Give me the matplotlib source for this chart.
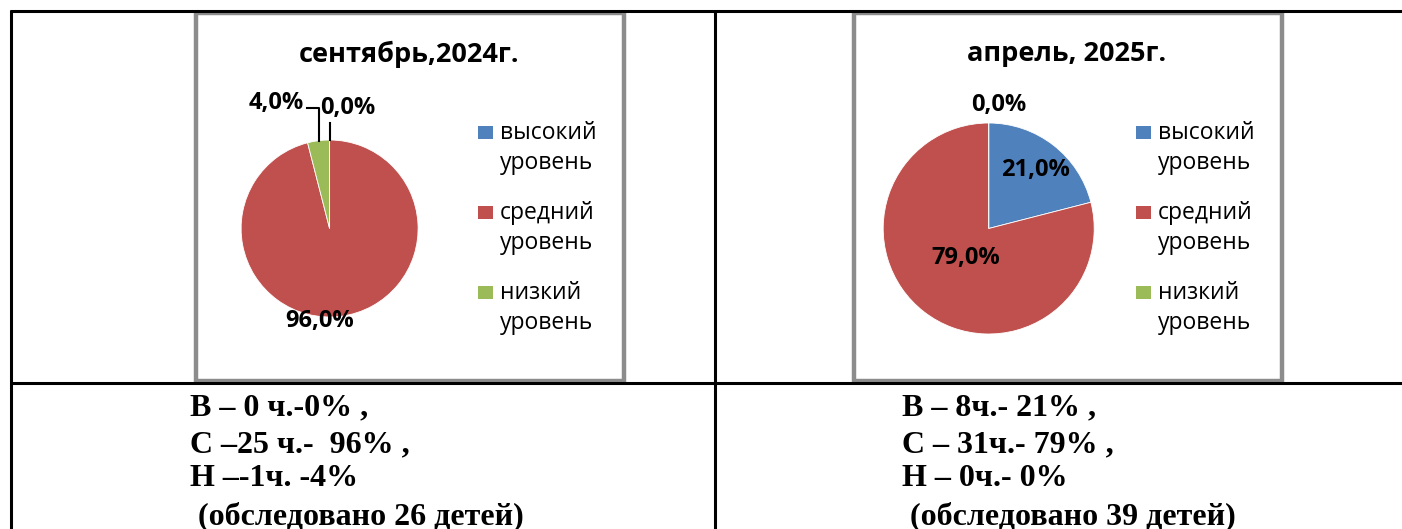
import matplotlib
matplotlib.use('Agg')
import matplotlib.pyplot as plt
from matplotlib.patches import Rectangle

# data
levels = ['высокий\nуровень', 'средний\nуровень', 'низкий\nуровень']
colors = ['#4F81BD', '#C0504D', '#9BBB59']
sep_title = 'сентябрь,2024г.'
sep_values = [0.0, 96.0, 4.0]
apr_title = 'апрель, 2025г.'
apr_values = [21.0, 79.0, 0.0]
sep_notes = ['В – 0 ч.-0% ,', 'С –25 ч.-  96% ,', 'Н –-1ч. -4%', ' (обследовано 26 детей)']
apr_notes = ['В – 8ч.- 21% ,', 'С – 31ч.- 79% ,', 'Н – 0ч.- 0%', ' (обследовано 39 детей)']

W, H = 1402, 529
fig = plt.figure(figsize=(W / 100, H / 100), dpi=100)

# overlay axes in pixel coordinates for table lines, boxes and text
bg = fig.add_axes([0, 0, 1, 1])
bg.set_xlim(0, W)
bg.set_ylim(H, 0)
bg.axis('off')

# table grid
lk = dict(color='black', lw=2.2, solid_capstyle='butt')
bg.plot([10, W], [10.5, 10.5], **lk)
bg.plot([10, W], [383, 383], **lk)
bg.plot([10.5, 10.5], [10, H], **lk)
bg.plot([714.5, 714.5], [10, H], **lk)

# chart frames
bg.add_patch(Rectangle((196, 13), 428, 368, fc='white', ec='#8C8C8C', lw=3.2))
bg.add_patch(Rectangle((854, 13), 428, 368, fc='white', ec='#8C8C8C', lw=3.2))

title_font = dict(family=['Open Sans', 'DejaVu Sans'], fontsize=19.5, fontweight='bold')
lab_font = dict(family=['Open Sans', 'DejaVu Sans'], fontsize=17, fontweight='bold')
leg_font = dict(family=['Open Sans', 'DejaVu Sans'], fontsize=16.5)
note_font = dict(family=['Liberation Serif', 'DejaVu Serif'], fontsize=23, fontweight='bold')

bg.text(409, 54, sep_title, ha='center', va='center', **title_font)
bg.text(1067, 54, apr_title, ha='center', va='center', **title_font)


def legend(x0, y0):
    for i, (lab, c) in enumerate(zip(levels, colors)):
        yy = y0 + i * 80
        bg.add_patch(Rectangle((x0, yy - 7), 15, 13, fc=c, ec='none'))
        for j, line in enumerate(lab.split('\n')):
            bg.text(x0 + 22, yy + j * 30, line, ha='left', va='center', **leg_font)


legend(478, 133)
legend(1136, 133)


def pie(cx, cy, r, values):
    ax = fig.add_axes([(cx - r) / W, 1 - (cy + r) / H, 2 * r / W, 2 * r / H])
    ax.pie(values, colors=colors, startangle=90, counterclock=False, radius=1,
           wedgeprops=dict(edgecolor='white', linewidth=0.6))
    ax.set_xlim(-1, 1)
    ax.set_ylim(-1, 1)
    ax.axis('off')
    return ax


def pct(v):
    return f'{v:.1f}%'.replace('.', ',')


ax1 = pie(329.6, 228.5, 88.5, sep_values)
ax1.text(-0.606, 1.42, pct(sep_values[2]), ha='center', va='center', **lab_font)
ax1.text(0.21, 1.36, pct(sep_values[0]), ha='center', va='center', **lab_font)
ax1.text(-0.108, -1.045, pct(sep_values[1]), ha='center', va='center', **lab_font)
ax1.plot([-0.125, -0.125, -0.255], [0.99, 1.36, 1.36], color='black', lw=1.5, clip_on=False)
ax1.plot([0, 0], [1.0, 1.19], color='black', lw=1.5, clip_on=False)

ax2 = pie(988.7, 228.5, 105.5, apr_values)
ax2.text(0.098, 1.175, pct(apr_values[2]), ha='center', va='center', **lab_font)
ax2.text(0.44, 0.555, pct(apr_values[0]), ha='center', va='center', **lab_font)
ax2.text(-0.215, -0.28, pct(apr_values[1]), ha='center', va='center', **lab_font)

# notes under the charts
for i, (a, b) in enumerate(zip(sep_notes, apr_notes)):
    y = [408, 445, 479, 516][i]
    bg.text(190, y, a, ha='left', va='center', **note_font)
    bg.text(902, y, b, ha='left', va='center', **note_font)

fig.savefig('out.png', dpi=100)
